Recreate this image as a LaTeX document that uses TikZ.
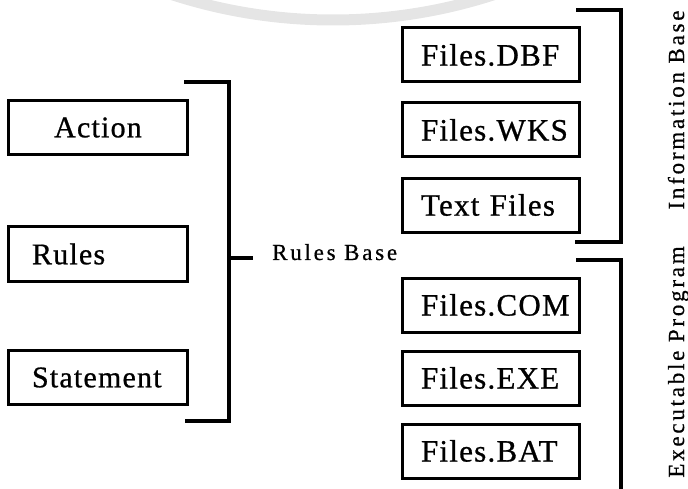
\documentclass[tikz,border=0pt]{standalone}
\usepackage{fontspec}
\setmainfont{Liberation Serif}
\newfontfamily\boxfont[LetterSpace=4, FakeBold=0.8]{Liberation Serif}
\newfontfamily\spacedfont[LetterSpace=12, FakeBold=0.6]{Liberation Serif}
\usetikzlibrary{positioning}

\begin{document}
\begin{tikzpicture}[x=1bp, y=-1bp,
  rulebox/.style={draw, line width=3bp, minimum width=178bp, minimum height=54bp,
    text width=132bp, inner xsep=23bp, align=left,
    font=\boxfont\fontsize{30bp}{34bp}\selectfont},
  filebox/.style={draw, line width=3bp, minimum width=177bp, minimum height=54bp,
    text width=139bp, inner xsep=19bp, align=left,
    font=\boxfont\fontsize{31bp}{36bp}\selectfont},
  bracket/.style={line width=3.5bp},
  sidelabel/.style={inner sep=0pt, font=\spacedfont\fontsize{23bp}{27bp}\selectfont}]
  \useasboundingbox (0,0) rectangle (688,489);
  % Watermark arc
  \begin{scope}
    \clip (0,0) rectangle (688,489);
    \draw[gray!20, line width=11bp] (333,-501) circle[radius=521];
  \end{scope}
  % Rules base boxes
  \node[rulebox, align=center] (action) at (98,127.5) {Action};
  \node[rulebox] (rules) at (98,254) {Rules};
  \node[rulebox] (statement) at (98,377.5) {Statement};
  % File boxes
  \node[filebox] (dbf) at (490.5,55) {Files.DBF};
  \node[filebox, below=18bp of dbf] (wks) {Files.WKS};
  \node[filebox, below=18bp of wks] (txt) {Text Files};
  \node[filebox] (com) at (490.5,305) {Files.COM};
  \node[filebox, below=16bp of com] (exe) {Files.EXE};
  \node[filebox, below=16bp of exe] (bat) {Files.BAT};
  % Rules base bracket
  \coordinate (rbTop) at (184,82);
  \coordinate (rbBot) at (229,421);
  \coordinate (rbTick) at (229,258);
  \draw[bracket] (rbTop) -| (rbBot) -- ++(-44,0);
  \draw[bracket] (rbTick) -- ++(24,0) coordinate (rbEnd);
  \node[sidelabel, anchor=base west] (rbase) at (272,260) {Rules Base};
  % Information base bracket
  \coordinate (ibTop) at (576,10);
  \coordinate (ibBot) at (621,242);
  \draw[bracket] (ibTop) -| (ibBot) -- ++(-46,0);
  \node[sidelabel, rotate=90, anchor=base] (ibase) at (684,110) {Information Base};
  % Executable program bracket
  \coordinate (epTop) at (576,260);
  \coordinate (epBot) at (621,489);
  \draw[bracket] (epTop) -| (epBot);
  \node[sidelabel, rotate=90, anchor=base] (eprog) at (684,362) {Executable Program};
\end{tikzpicture}
\end{document}
